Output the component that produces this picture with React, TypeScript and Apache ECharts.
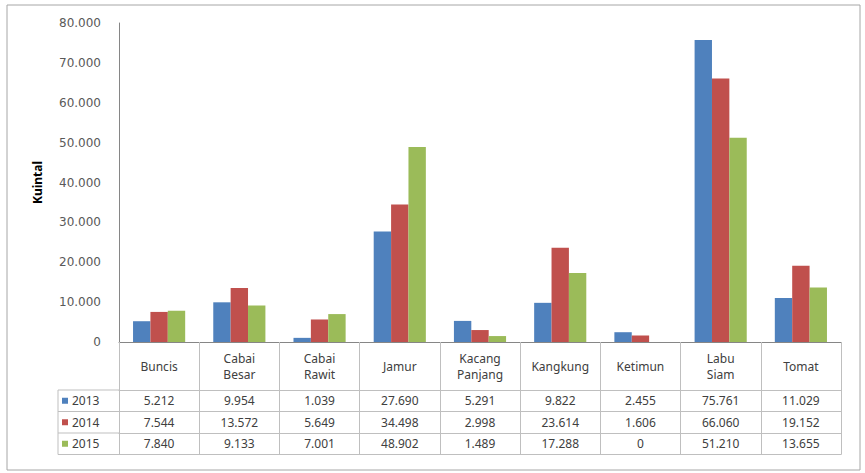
import React, { useEffect, useRef } from "react";
import * as echarts from "echarts";

const categories = ["Buncis", "Cabai\nBesar", "Cabai\nRawit", "Jamur", "Kacang\nPanjang", "Kangkung", "Ketimun", "Labu\nSiam", "Tomat"];
const years = ["2013", "2014", "2015"];
const values2013 = [5212, 9954, 1039, 27690, 5291, 9822, 2455, 75761, 11029];
const values2014 = [7544, 13572, 5649, 34498, 2998, 23614, 1606, 66060, 19152];
const values2015 = [7840, 9133, 7001, 48902, 1489, 17288, 0, 51210, 13655];
const colors = ["#4F81BD", "#C0504D", "#9BBB59"];
const yTicks = { min: 0, max: 80000, interval: 10000 };

const fmt = (v: number) => String(v).replace(/\B(?=(\d{3})+(?!\d))/g, ".");

export default function App() {
  const ref = useRef<HTMLDivElement>(null);
  useEffect(() => {
    if (!ref.current) return;
    const chart = echarts.init(ref.current, null, { renderer: "svg" });
    const seriesValues = [values2013, values2014, values2015];
    const gridLeft = 119, gridTop = 23, gridRight = 841, gridBottom = 342;
    const headerH = 48, rowH = 21.5;
    const legendLeft = 58;
    const textColor = "#404040";
    const tableLine = "#BFBFBF";
    const font = "'Noto Sans', sans-serif";

    const rowAxes = seriesValues.map((vals, i) => ({
      type: "category",
      data: categories,
      gridIndex: 0,
      position: "bottom",
      offset: headerH + rowH * i,
      axisLine: { show: true, lineStyle: { color: tableLine } },
      axisTick: { show: false },
      axisLabel: {
        interval: 0,
        margin: rowH / 2,
        verticalAlign: "middle",
        fontSize: 12,
        fontFamily: font,
        color: textColor,
        formatter: (_v: string, idx: number) => fmt(vals[idx]),
      },
    }));

    const tableBottom = gridBottom + headerH + rowH * 3;
    const graphics: any[] = [
      {
        type: "rect",
        shape: { x: 7, y: 5, width: 853, height: 465 },
        style: { fill: "none", stroke: "#A6A6A6", lineWidth: 1 },
      },
      {
        type: "line",
        shape: { x1: legendLeft, y1: gridBottom + headerH, x2: legendLeft, y2: tableBottom },
        style: { stroke: tableLine, lineWidth: 1 },
      },
    ];
    for (let i = 0; i <= 3; i++) {
      const y = gridBottom + headerH + rowH * i;
      graphics.push({
        type: "line",
        shape: { x1: legendLeft, y1: y, x2: gridLeft, y2: y },
        style: { stroke: tableLine, lineWidth: 1 },
      });
    }

    chart.setOption({
      animation: false,
      color: colors,
      grid: {
        left: gridLeft,
        top: gridTop,
        width: gridRight - gridLeft,
        height: gridBottom - gridTop,
        containLabel: false,
      },
      legend: {
        orient: "vertical",
        left: legendLeft + 4,
        top: gridBottom + headerH,
        padding: 0,
        itemGap: 0,
        itemWidth: 6,
        itemHeight: 6,
        icon: "rect",
        data: years,
        textStyle: { fontSize: 12, fontFamily: font, color: textColor, lineHeight: rowH, padding: [0, 0, 0, -1] },
      },
      xAxis: [
        {
          type: "category",
          data: categories,
          gridIndex: 0,
          position: "bottom",
          axisLine: { show: true, lineStyle: { color: "#868686" } },
          axisTick: { show: true, interval: 0, length: headerH + rowH * 3, lineStyle: { color: tableLine } },
          axisLabel: {
            interval: 0,
            margin: headerH / 2,
            verticalAlign: "middle",
            fontSize: 12,
            lineHeight: 16,
            fontFamily: font,
            color: textColor,
          },
        },
        ...rowAxes,
        {
          type: "category",
          data: categories,
          gridIndex: 0,
          position: "bottom",
          offset: headerH + rowH * 3,
          axisLine: { show: true, lineStyle: { color: tableLine } },
          axisTick: { show: false },
          axisLabel: { show: false },
        },
      ],
      yAxis: {
        type: "value",
        min: yTicks.min,
        max: yTicks.max,
        interval: yTicks.interval,
        name: "Kuintal",
        nameLocation: "middle",
        nameRotate: 90,
        nameGap: 76,
        nameTextStyle: { fontSize: 12, fontWeight: "bold", color: "#000", fontFamily: font },
        axisLine: { show: true, lineStyle: { color: "#868686" } },
        axisTick: { show: false },
        splitLine: { show: false },
        axisLabel: {
          margin: 18,
          fontSize: 12,
          fontFamily: "'DejaVu Sans', sans-serif",
          color: "#595959",
          formatter: (v: number) => fmt(v),
        },
      },
      series: seriesValues.map((vals, i) => ({
        name: years[i],
        type: "bar",
        xAxisIndex: 0,
        data: vals,
        barGap: "0%",
        barCategoryGap: "35%",
        itemStyle: { color: colors[i] },
      })),
      graphic: graphics,
    });
    return () => chart.dispose();
  }, []);
  return <div ref={ref} style={{ position: "absolute", left: 0, top: 0, width: 865, height: 473, background: "#fff" }} />;
}
